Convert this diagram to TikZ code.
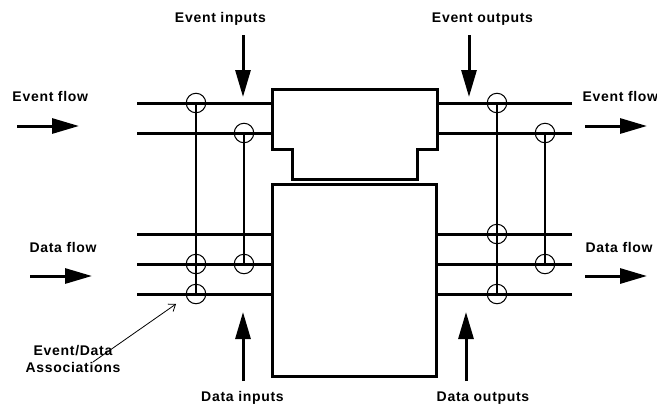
\documentclass[tikz,border=0pt]{standalone}
\usepackage{fontspec}
\setmainfont{Liberation Sans}
\newfontfamily\labelfont[LetterSpace=5]{Liberation Sans}
\usetikzlibrary{arrows.meta}

\begin{document}
\begin{tikzpicture}[x=1pt, y=-1pt, line width=3pt,
		lbl/.style={font=\labelfont\bfseries\fontsize{14}{17}\selectfont,
			inner sep=0pt, anchor=base, align=center},
		bigarrow/.style={-{Triangle[length=27pt, width=15pt]}, line width=3pt},
		pointer/.style={-{Straight Barb[length=6pt, width=9pt]}, line width=0.8pt},
		link/.style={line width=1.5pt},
		tap/.style={circle, draw, line width=1pt, minimum size=19.5pt, inner sep=0pt}]
	\useasboundingbox (0,0) rectangle (657,408);
	% event part and data part of the block
	\draw (272,89) -- (437,89) -- (437,149) -- (417,149) -- (417,179.5)
		-- (292,179.5) -- (292,149) -- (272,149) -- cycle;
	\draw (272,184) rectangle (436.5,376);
	% event and data lines on both sides
	\foreach \y in {103,133,234,264,294} {
		\coordinate (in\y) at (137,\y);
		\coordinate (out\y) at (572,\y);
		\draw (in\y) -- (272,\y);
		\draw (out\y) -- (436.5,\y);
	}
	% associations
	\foreach \n/\x/\y in {%
		la/196/103, lb/196/264, lc/196/294,
		ld/244/133, le/244/264,
		ra/497/103, rb/497/234, rc/497/294,
		rd/545/133, re/545/264} {
		\node[tap] (\n) at (\x,\y) {};
	}
	\draw[link] (la.center) -- (lc.center);
	\draw[link] (ld.center) -- (le.center);
	\draw[link] (ra.center) -- (rc.center);
	\draw[link] (rd.center) -- (re.center);
	% labels
	\node[lbl] (evin) at (220.5,22) {Event inputs};
	\node[lbl] (evout) at (482.5,22) {Event outputs};
	\node[lbl, anchor=base west] (evflowl) at (11,101.5) {Event flow};
	\node[lbl, anchor=base west] (evflowr) at (581,101.5) {Event flow};
	\node[lbl, anchor=base west] (daflowl) at (28,252) {Data flow};
	\node[lbl, anchor=base west] (daflowr) at (584,252) {Data flow};
	\node[lbl] (dain) at (242.5,401) {Data inputs};
	\node[lbl] (daout) at (483,401) {Data outputs};
	\node[lbl] (assoc) at (73,372) {Event/Data\\Associations};
	% arrows
	\foreach \n/\a/\b in {%
		ei/{243,35}/{243,97}, eo/{469,35}/{469,97},
		efl/{17,126}/{79,126}, efr/{585,126}/{647,126},
		dfl/{30,276}/{92,276}, dfr/{585,276}/{647,276},
		di/{243,381}/{243,312}, do/{466,381}/{466,312}} {
		\coordinate (\n0) at (\a);
		\coordinate (\n1) at (\b);
		\draw[bigarrow] (\n0) -- (\n1);
	}
	\coordinate (assoctip) at (176,304);
	\draw[pointer] (93,362) -- (assoctip);
\end{tikzpicture}
\end{document}
